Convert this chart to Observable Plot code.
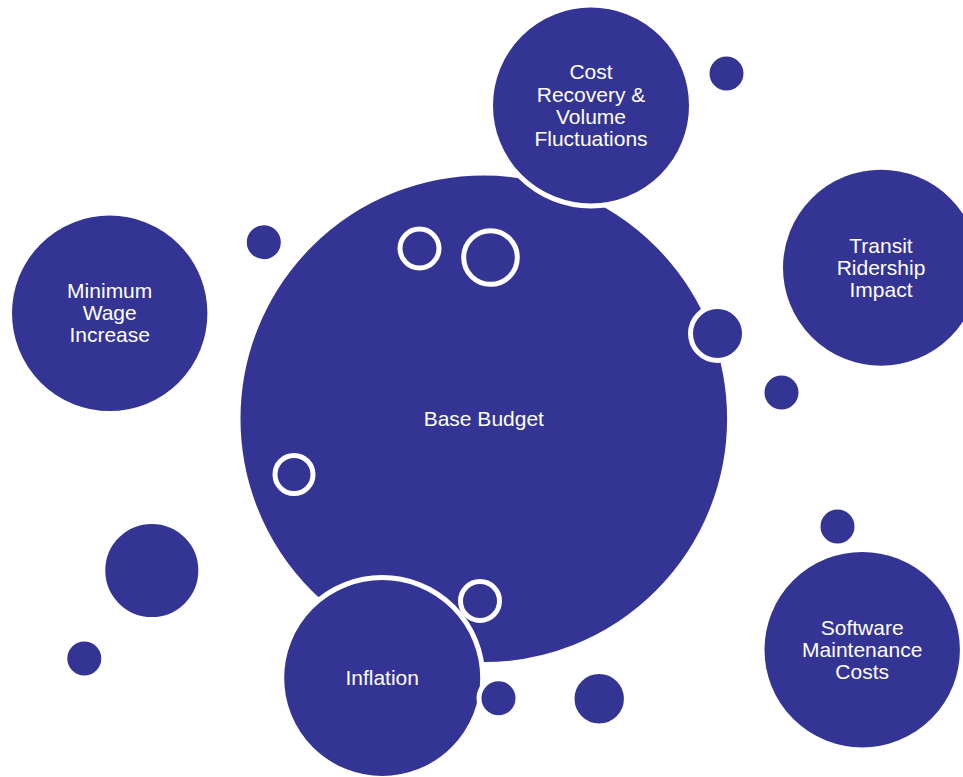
<!DOCTYPE html>
<html>
<head>
<meta charset="utf-8">
<script src="https://cdn.jsdelivr.net/npm/d3@7"></script>
<script src="https://cdn.jsdelivr.net/npm/@observablehq/plot@0.6"></script>
<style>
  html, body { margin: 0; padding: 0; background: #ffffff; }
  #chart svg { display: block; }
</style>
</head>
<body>
<div id="chart"></div>
<script>
// Bubbles (drawing order): label, centre x, centre y, visible radius, kind
const bubbleLabels = ["Base Budget", "Cost\nRecovery &\nVolume\nFluctuations", "Inflation",
  "", "Transit\nRidership\nImpact", "Minimum\nWage\nIncrease", "Software\nMaintenance\nCosts",
  "", "", "", "", "", "", "", ""];
const bubbleX = [483.3, 590.5, 381.7, 717, 880.5, 109.2, 861.7, 726, 263.3, 781, 837, 151.3, 83.8, 498, 598.7];
const bubbleY = [418.3, 105, 677.5, 333, 267.2, 312.8, 649.2, 73, 241.7, 392, 526, 570, 658, 697.8, 698.3];
const bubbleR = [243.3, 98, 98, 24.5, 98, 97.7, 97.7, 17, 17, 17, 17, 46.5, 17, 17, 24.7];

// Hollow rings sitting on the base budget
const ringX = [419, 490, 293.5, 479.5];
const ringY = [248, 257, 474, 600.5];
const ringR = [22, 29.3, 21.5, 22];

const BLUE = "#343495";
const STROKE = 5;

const bubbles = bubbleLabels.map((label, i) => ({label, x: bubbleX[i], y: bubbleY[i], r: bubbleR[i]}));
const rings = ringX.map((x, i) => ({x, y: ringY[i], r: ringR[i]}));

const chart = Plot.plot({
  width: 963,
  height: 777,
  margin: 0,
  x: {type: "identity", axis: null},
  y: {type: "identity", axis: null},
  r: {type: "identity"},
  style: {background: "#ffffff"},
  marks: [
    Plot.dot(bubbles, {x: "x", y: "y", r: d => d.r + STROKE / 2, fill: BLUE, stroke: "#ffffff", strokeWidth: STROKE}),
    Plot.dot(rings, {x: "x", y: "y", r: d => d.r - STROKE / 2, fill: "none", stroke: "#ffffff", strokeWidth: STROKE}),
    Plot.text(bubbles.filter(d => d.label), {
      x: "x", y: "y", text: "label",
      fill: "#ffffff", fontSize: 21, lineHeight: 1.05,
      fontFamily: "'Liberation Sans', Arial, Helvetica, sans-serif",
      textAnchor: "middle", lineAnchor: "middle"
    })
  ]
});
document.getElementById("chart").appendChild(chart);
</script>
</body>
</html>
